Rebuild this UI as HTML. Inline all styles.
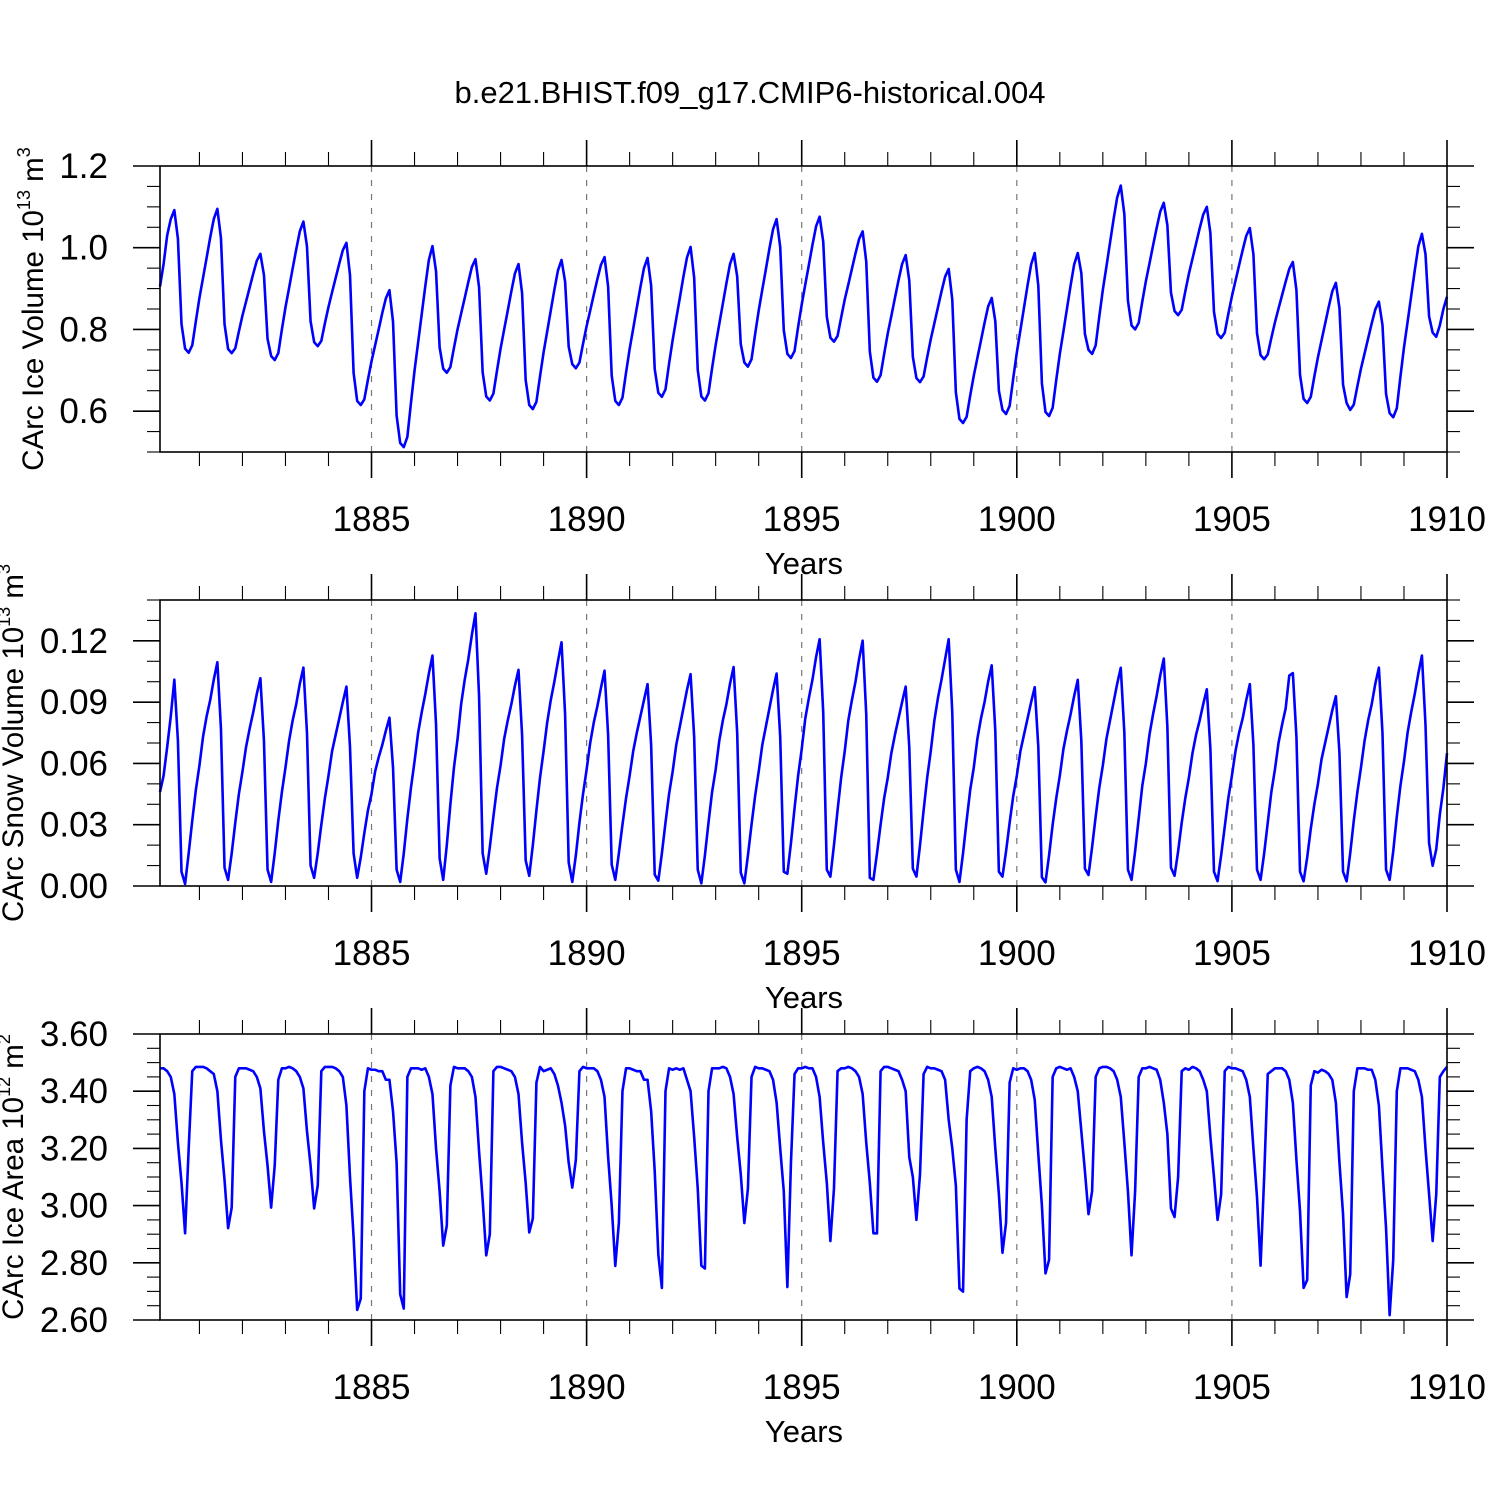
<!DOCTYPE html>
<html><head><meta charset="utf-8"><title>CArc ice, snow and area time series</title>
<style>
html,body{margin:0;padding:0;background:#fff;}
svg{display:block;font-family:"Liberation Sans",Arial,sans-serif;}
</style></head>
<body>
<svg id="chart" width="1500" height="1500" viewBox="0 0 1500 1500" xmlns="http://www.w3.org/2000/svg">
<rect width="1500" height="1500" fill="#fff"/>
<text x="750" y="103" font-size="31" text-anchor="middle">b.e21.BHIST.f09_g17.CMIP6-historical.004</text>
</svg>
<script>
const yearLabels = [1885, 1890, 1895, 1900, 1905, 1910];
const volLabels = ["0.6", "0.8", "1.0", "1.2"];
const snowLabels = ["0.00", "0.03", "0.06", "0.09", "0.12"];
const areaLabels = ["2.60", "2.80", "3.00", "3.20", "3.40", "3.60"];
const iceVolume = [
0.905,0.96,1.03,1.07,1.092,1.022,0.813,0.753,0.743,
.761,.820,.877,.926,.975,1.025,1.070,1.095,1.024,.813,.752,.742,
.754,.795,.834,.868,.902,.936,.968,.985,.933,.777,.735,.725,
.742,.800,.854,.901,.949,.996,1.040,1.064,1.003,.820,.769,.759,
.772,.815,.855,.891,.926,.961,.994,1.012,.933,.694,.625,.615,
.629,.677,.722,.761,.800,.840,.876,.896,.819,.589,.522,.512,
.537,.620,.699,.768,.837,.906,.970,1.004,.942,.756,.704,.694,
.708,.755,.800,.839,.877,.916,.953,.972,.903,.695,.636,.626,
.643,.699,.753,.800,.846,.893,.937,.960,.889,.676,.615,.605,
.623,.685,.744,.795,.846,.897,.944,.970,.917,.758,.715,.705,
.719,.765,.808,.846,.885,.923,.958,.977,.905,.687,.625,.615,
.633,.694,.752,.802,.853,.903,.950,.975,.907,.703,.645,.635,
.653,.716,.774,.826,.877,.929,.976,1.002,.927,.701,.636,.626,
.644,.705,.762,.813,.863,.913,.960,.985,.930,.764,.719,.709,
.727,.788,.846,.897,.947,.998,1.045,1.070,1.002,.798,.740,.730,
.747,.806,.861,.910,.958,1.007,1.052,1.076,1.015,.831,.780,.770,
.784,.829,.873,.910,.948,.986,1.021,1.040,.966,.746,.682,.672,
.688,.740,.790,.833,.877,.920,.960,.982,.920,.733,.681,.671,
.685,.732,.776,.815,.854,.893,.929,.948,.873,.646,.581,.571,
.586,.638,.687,.730,.773,.816,.856,.877,.820,.650,.603,.593,
.613,.680,.743,.798,.853,.908,.959,.987,.907,.668,.598,.588,
.608,.676,.740,.795,.851,.907,.959,.987,.938,.789,.750,.740,
.761,.831,.897,.954,1.012,1.070,1.123,1.152,1.082,.870,.810,.800,
.816,.868,.918,.961,1.005,1.048,1.088,1.110,1.055,.890,.845,.835,
.848,.893,.936,.973,1.010,1.047,1.081,1.100,1.036,.843,.789,.779,
.792,.838,.881,.919,.957,.994,1.029,1.048,.984,.791,.737,.727,
.739,.779,.817,.851,.884,.917,.948,.965,.896,.689,.630,.620,
.635,.685,.732,.773,.814,.855,.893,.914,.852,.665,.620,.603,
.616,.661,.704,.741,.778,.815,.849,.868,.811,.642,.595,.585,
.607,.684,.756,.818,.881,.944,1.003,1.034,.984,.832,.792,.782,
.81,.85,.88];
const snowVolume = [
.046,.054,.068,.083,
.101,.071,.007,.001,.016,.032,.047,.059,.073,.083,.091,.101,
.1095,.077,.009,.003,.016,.031,.045,.056,.068,.077,.085,.094,
.1017,.071,.008,.002,.016,.032,.046,.058,.071,.081,.089,.099,
.1069,.075,.010,.004,.016,.030,.043,.054,.066,.074,.082,.090,
.0976,.068,.016,.004,.014,.026,.037,.045,.056,.063,.069,.076,
.0824,.058,.008,.002,.016,.033,.048,.061,.075,.085,.094,.104,
.1128,.079,.0135,.003,.020,.040,.058,.072,.089,.101,.111,.123,
.1335,.093,.016,.006,.019,.034,.048,.059,.072,.081,.089,.098,
.1058,.074,.0125,.005,.020,.037,.053,.066,.080,.091,.100,.110,
.1193,.084,.0115,.002,.015,.031,.045,.057,.070,.080,.088,.097,
.1054,.074,.0105,.003,.016,.030,.043,.054,.066,.075,.083,.091,
.0988,.069,.0056,.0026,.016,.031,.045,.056,.069,.078,.087,.096,
.1037,.073,.008,.0013,.015,.031,.046,.057,.071,.081,.089,.099,
.1072,.075,.0065,.0013,.015,.030,.044,.056,.069,.078,.087,.096,
.104,.073,.007,.006,.021,.038,.054,.067,.082,.092,.101,.112,
.1208,.085,.008,.0046,.020,.037,.053,.066,.081,.091,.100,.111,
.1201,.084,.004,.003,.016,.030,.043,.053,.065,.074,.082,.090,
.0976,.068,.0085,.0046,.020,.037,.053,.066,.081,.092,.101,.111,
.1208,.085,.008,.002,.016,.032,.047,.058,.072,.082,.090,.100,
.108,.076,.007,.0046,.017,.031,.044,.054,.066,.074,.082,.090,
.0973,.068,.0043,.0018,.015,.030,.043,.054,.067,.076,.084,.093,
.1009,.071,.0085,.0054,.019,.034,.048,.059,.072,.081,.090,.099,
.1068,.075,.008,.003,.017,.033,.049,.060,.074,.084,.093,.103,
.1113,.078,.009,.005,.017,.031,.043,.053,.065,.074,.081,.089,
.0963,.067,.007,.0024,.015,.029,.043,.054,.066,.075,.082,.091,
.0988,.069,.008,.003,.016,.031,.046,.057,.070,.079,.087,.103,
.1042,.073,.007,.0023,.014,.028,.040,.050,.062,.070,.078,.086,
.0929,.065,.007,.0023,.016,.032,.046,.058,.071,.081,.089,.099,
.1069,.075,.008,.003,.017,.034,.049,.061,.075,.085,.094,.104,
.1128,.079,.021,.0099,.018,.035,.048,.065];
const iceArea = [
3.48,3.48,3.47,3.45,3.39,3.22,3.08,2.903,3.20,3.47,3.485,3.485,
3.485,3.48,3.47,3.46,3.40,3.23,3.09,2.921,2.993,3.45,3.48,3.48,
3.48,3.475,3.47,3.45,3.41,3.26,3.14,2.993,3.14,3.44,3.48,3.48,
3.485,3.48,3.47,3.45,3.41,3.26,3.14,2.99,3.07,3.47,3.485,3.485,
3.485,3.48,3.47,3.45,3.35,3.10,2.89,2.635,2.675,3.40,3.48,3.475,
3.475,3.47,3.47,3.44,3.44,3.33,3.15,2.69,2.64,3.45,3.48,3.48,
3.48,3.475,3.48,3.45,3.39,3.20,3.05,2.86,2.93,3.42,3.485,3.48,
3.48,3.48,3.47,3.45,3.38,3.19,3.02,2.826,2.90,3.47,3.485,3.485,
3.48,3.475,3.47,3.45,3.39,3.22,3.08,2.906,2.955,3.43,3.485,3.47,
3.475,3.48,3.46,3.42,3.36,3.28,3.15,3.063,3.16,3.47,3.485,3.48,
3.48,3.48,3.47,3.44,3.38,3.17,3.00,2.789,2.94,3.40,3.48,3.48,
3.475,3.47,3.47,3.44,3.44,3.33,3.12,2.83,2.712,3.40,3.48,3.475,
3.48,3.475,3.48,3.44,3.40,3.24,3.06,2.79,2.78,3.40,3.48,3.48,
3.48,3.485,3.48,3.45,3.39,3.24,3.11,2.939,3.06,3.45,3.485,3.48,
3.48,3.475,3.47,3.44,3.36,3.20,3.05,2.715,3.15,3.46,3.48,3.48,
3.485,3.48,3.48,3.45,3.38,3.22,3.08,2.876,3.06,3.47,3.48,3.48,
3.485,3.48,3.47,3.45,3.39,3.22,3.08,2.903,2.903,3.47,3.485,3.485,
3.48,3.475,3.47,3.44,3.40,3.17,3.10,2.95,3.11,3.46,3.485,3.48,
3.48,3.475,3.47,3.44,3.30,3.20,3.07,2.71,2.699,3.30,3.47,3.48,
3.485,3.48,3.47,3.44,3.38,3.20,3.04,2.835,2.94,3.43,3.48,3.475,
3.48,3.48,3.47,3.44,3.37,3.18,3.00,2.763,2.81,3.45,3.48,3.485,
3.48,3.475,3.48,3.45,3.40,3.26,3.12,2.97,3.05,3.45,3.48,3.485,
3.485,3.48,3.47,3.44,3.38,3.22,3.05,2.826,3.05,3.45,3.48,3.48,
3.485,3.48,3.475,3.44,3.36,3.25,2.99,2.96,3.10,3.47,3.48,3.475,
3.485,3.48,3.47,3.44,3.40,3.24,3.10,2.95,3.04,3.47,3.485,3.48,
3.48,3.475,3.47,3.44,3.38,3.20,3.03,2.79,3.10,3.46,3.47,3.48,
3.48,3.48,3.47,3.44,3.36,3.16,2.98,2.712,2.74,3.42,3.47,3.465,
3.475,3.47,3.46,3.44,3.36,3.15,2.97,2.68,2.76,3.40,3.48,3.48,
3.48,3.475,3.475,3.44,3.35,3.13,2.92,2.617,2.81,3.40,3.48,3.48,
3.48,3.475,3.47,3.44,3.38,3.20,3.04,2.876,3.04,3.45,3.47,3.485];

const NS = "http://www.w3.org/2000/svg";
const svg = document.getElementById("chart");
const X0 = 160, X1 = 1447;
const T0 = 1880 + 1/12;
function xTime(t){ return X0 + (t - T0) * (X1 - X0) / (359/12); }
function xIndex(i){ return xTime(T0 + i/12); }
function mk(tag, attrs, parent){
  const el = document.createElementNS(NS, tag);
  for (const k in attrs) el.setAttribute(k, attrs[k]);
  (parent || svg).appendChild(el);
  return el;
}

const panels = [
  {name:"ice-volume", top:166, bottom:452, ymin:0.5, ymax:1.2, majorStart:0.6, majorStep:0.2, minorStep:0.05, labels:volLabels, data:iceVolume,
   title:["CArc Ice Volume 10","13"," m","3"], titleX:32},
  {name:"snow-volume", top:600, bottom:886, ymin:0, ymax:0.14, majorStart:0, majorStep:0.03, minorStep:0.01, labels:snowLabels, data:snowVolume,
   title:["CArc Snow Volume 10","13"," m","3"], titleX:12},
  {name:"ice-area", top:1034, bottom:1320, ymin:2.6, ymax:3.6, majorStart:2.6, majorStep:0.2, minorStep:0.05, labels:areaLabels, data:iceArea,
   title:["CArc Ice Area 10","12"," m","2"], titleX:12}
];

panels.forEach(function(p){
  const g = mk("g", {});
  
  
  function y(v){ return p.bottom - (v - p.ymin) * (p.bottom - p.top) / (p.ymax - p.ymin); }

  yearLabels.forEach(function(yr){
    if (yr >= 1910) return;
    const gl = mk("line", {x1:xTime(yr), x2:xTime(yr), y1:p.top, y2:p.bottom, stroke:"#777", "stroke-width":1.2, "stroke-dasharray":"6,8"}, g);
    
    
  });

  for (let yr = 1881; yr <= 1910; yr++){
    const major = (yr % 5 === 0);
    const len = major ? 26 : 14;
    const x = xTime(yr);
    const tb = mk("line", {x1:x, x2:x, y1:p.bottom, y2:p.bottom + len, stroke:"#000", "stroke-width":major?1.6:1.1}, g);
    
    
    const tt = mk("line", {x1:x, x2:x, y1:p.top, y2:p.top - len, stroke:"#000", "stroke-width":major?1.6:1.1}, g);
    
    
  }
  const nMinor = Math.round((p.ymax - p.ymin) / p.minorStep);
  for (let k = 0; k <= nMinor; k++){
    const v = p.ymin + k * p.minorStep;
    const rel = (v - p.majorStart) / p.majorStep;
    const major = Math.abs(rel - Math.round(rel)) < 1e-6 && rel > -1e-6;
    const len = major ? 27 : 13;
    const yy = y(v);
    const tl = mk("line", {x1:X0 - len, x2:X0, y1:yy, y2:yy, stroke:"#000", "stroke-width":major?1.6:1.1}, g);
    
    
    const tr = mk("line", {x1:X1, x2:X1 + len, y1:yy, y2:yy, stroke:"#000", "stroke-width":major?1.6:1.1}, g);
    
    
  }
  p.labels.forEach(function(lab){
    const v = parseFloat(lab);
    const t = mk("text", {x:108, y:y(v) + 12, "font-size":35, "text-anchor":"end"}, g);
    t.textContent = lab;
    
    
  });
  yearLabels.forEach(function(yr){
    const t = mk("text", {x:xTime(yr), y:p.bottom + 79, "font-size":35, "text-anchor":"middle"}, g);
    t.textContent = yr;
    
    
  });
  const xt = mk("text", {x:804, y:p.bottom + 122, "font-size":31, "text-anchor":"middle"}, g);
  xt.textContent = "Years";
  
  

  const cy = (p.top + p.bottom) / 2;
  const yt = mk("text", {x:0, y:0, "font-size":29.5, "text-anchor":"middle", transform:"translate(" + (p.titleX + 11) + "," + cy + ") rotate(-90)"}, g);
  
  
  const s1 = mk("tspan", {}, yt); s1.textContent = p.title[0];
  const s2 = mk("tspan", {"font-size":18, dy:-13}, yt); s2.textContent = p.title[1];
  const s3 = mk("tspan", {dy:13}, yt); s3.textContent = p.title[2];
  const s4 = mk("tspan", {"font-size":18, dy:-13}, yt); s4.textContent = p.title[3];

  let d = "";
  p.data.forEach(function(v, i){ d += (i ? "L" : "M") + xIndex(i).toFixed(2) + "," + y(v).toFixed(2); });
  const line = mk("path", {d:d, fill:"none", stroke:"#0000ff", "stroke-width":2.6, "stroke-linejoin":"round"}, g);
  
  

  const fr = mk("rect", {x:X0, y:p.top, width:X1 - X0, height:p.bottom - p.top, fill:"none", stroke:"#000", "stroke-width":1.6}, g);
  
  
});
</script>
</body></html>
